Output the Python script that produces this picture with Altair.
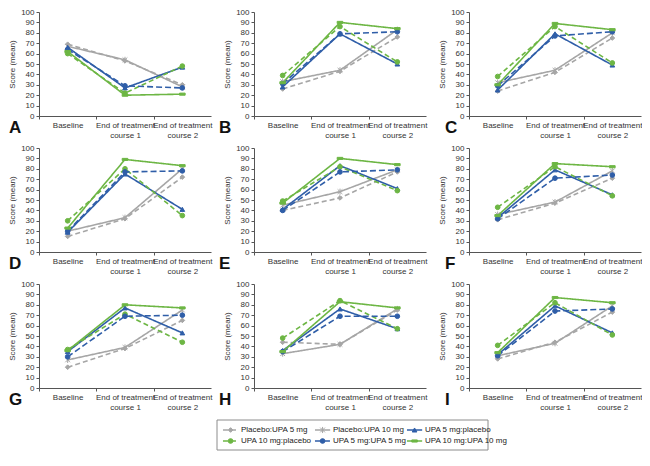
import altair as alt
import pandas as pd

timepoints = ["Baseline", "End of treatment course 1", "End of treatment course 2"]
series = ["Placebo:UPA 5 mg", "Placebo:UPA 10 mg", "UPA 5 mg:placebo",
          "UPA 10 mg:placebo", "UPA 5 mg:UPA 5 mg", "UPA 10 mg:UPA 10 mg"]
panel_letters = ["A", "B", "C", "D", "E", "F", "G", "H", "I"]

# values per panel, one list per series (same order as `series`)
A_values = [[69, 53, 30], [67, 54, 28], [66, 27, 47], [60, 22, 48], [64, 29, 27], [62, 20, 21]]
B_values = [[26, 43, 76], [33, 44, 83], [28, 79, 50], [39, 86, 52], [31, 79, 81], [32, 90, 84]]
C_values = [[24, 42, 75], [32, 44, 80], [25, 79, 49], [38, 86, 51], [29, 77, 81], [30, 89, 83]]
D_values = [[15, 32, 72], [20, 33, 80], [19, 75, 41], [30, 80, 35], [20, 77, 78], [23, 89, 83]]
E_values = [[40, 52, 77], [45, 58, 79], [41, 83, 61], [49, 82, 59], [40, 77, 79], [47, 90, 84]]
F_values = [[31, 47, 71], [36, 48, 78], [33, 79, 55], [43, 82, 54], [32, 71, 74], [35, 85, 82]]
G_values = [[20, 38, 65], [27, 39, 75], [35, 77, 53], [37, 71, 44], [30, 69, 70], [36, 80, 77]]
H_values = [[44, 42, 75], [33, 42, 76], [36, 76, 57], [48, 84, 57], [35, 69, 69], [35, 83, 77]]
I_values = [[28, 44, 73], [31, 43, 79], [32, 79, 53], [41, 82, 51], [31, 74, 76], [34, 87, 82]]
panel_values = [A_values, B_values, C_values, D_values, E_values, F_values,
                G_values, H_values, I_values]

y_ticks = list(range(0, 101, 10))

# styles
GRAY, BLUE, GREEN = "#a6a6a6", "#2f5ea8", "#6db644"
colors = [GRAY, GRAY, BLUE, GREEN, BLUE, GREEN]
dashes = [[5, 3], [1, 0], [1, 0], [5, 3], [6, 3], [1, 0]]
widths = [1.6, 1.6, 2.2, 2.0, 2.0, 2.0]
ASTER = "M-1,-1L1,1M-1,1L1,-1M0,-1.3L0,1.3"
DASHM = "M-1.2,-0.45H1.2V0.45H-1.2Z"
shapes = ["diamond", ASTER, "triangle-up", "circle", "circle", DASHM]

FONT = "Liberation Sans"
W, H = 172, 104
HSP, VSP = 43, 32
STEP = W / 3
letter_dx = [-30, -35, -24]

color_scale = alt.Scale(domain=series, range=colors)
dash_scale = alt.Scale(domain=series, range=dashes)
width_scale = alt.Scale(domain=series, range=widths)
shape_scale = alt.Scale(domain=series, range=shapes)

label_expr = ("datum.label == 'Baseline' ? datum.label : "
              "['End of treatment', substring(datum.label, 17)]")

# legend geometry (pixels, relative to the bottom-middle panel)
LEG_LEFT, LEG_TOP, LEG_W, LEG_H = -37, 136, 271, 30
UNIT_X, UNIT_Y = 92.0, 11.0


def legend_layer():
    rows = []
    for k, s in enumerate(series):
        c, r = k % 3, k // 3
        rows.append({"series": s, "row": r, "x0": c + 0.065, "x1": c + 0.23,
                     "xm": c + 0.1475, "xt": c + 0.26})
    df = pd.DataFrame(rows)
    box = pd.DataFrame({"bx0": [0.0], "bx1": [LEG_W / UNIT_X],
                        "by0": [-10 / UNIT_Y], "by1": [(LEG_H - 10) / UNIT_Y]})
    dmin_x = -LEG_LEFT / UNIT_X
    lx = alt.Scale(domain=[dmin_x, dmin_x + W / UNIT_X], nice=False, zero=False)
    dmin_y = -(LEG_TOP + 10) / UNIT_Y
    ly = alt.Scale(domain=[dmin_y, dmin_y + H / UNIT_Y], reverse=True, nice=False, zero=False)
    frame = alt.Chart(box).mark_rect(fill=None, stroke="#8c8c8c", strokeWidth=1).encode(
        x=alt.X("bx0:Q", scale=lx, axis=None), x2="bx1:Q",
        y=alt.Y("by0:Q", scale=ly, axis=None), y2="by1:Q")
    base = alt.Chart(df)
    segs = base.mark_rule().encode(
        x=alt.X("x0:Q", scale=lx, axis=None), x2="x1:Q",
        y=alt.Y("row:Q", scale=ly, axis=None),
        color=alt.Color("series:N", scale=color_scale, legend=None),
        strokeDash=alt.StrokeDash("series:N", scale=dash_scale, legend=None),
        strokeWidth=alt.StrokeWidth("series:N", scale=width_scale, legend=None),
    )
    pts = base.mark_point(filled=True, opacity=1, size=22, strokeWidth=1).encode(
        x=alt.X("xm:Q", scale=lx, axis=None),
        y=alt.Y("row:Q", scale=ly, axis=None),
        color=alt.Color("series:N", scale=color_scale, legend=None),
        stroke=alt.Stroke("series:N", scale=color_scale, legend=None),
        shape=alt.Shape("series:N", scale=shape_scale, legend=None),
    )
    txt = base.mark_text(align="left", baseline="middle", fontSize=8, font=FONT,
                         color="#222").encode(
        x=alt.X("xt:Q", scale=lx, axis=None),
        y=alt.Y("row:Q", scale=ly, axis=None),
        text="series:N",
    )
    return alt.layer(frame, segs, pts, txt)


def make_panel(i):
    rows = []
    for s, arr in zip(series, panel_values[i]):
        for t, v in zip(timepoints, arr):
            rows.append({"series": s, "time": t, "value": v})
    df = pd.DataFrame(rows)
    x = alt.X("time:N", sort=timepoints, bandPosition=0.5,
              scale=alt.Scale(type="band", domain=timepoints, paddingInner=0, paddingOuter=0),
              axis=alt.Axis(title=None, labelAngle=0, labelExpr=label_expr,
                            tickOffset=-STEP / 2, labelOffset=STEP / 2,
                            labelLineHeight=10, labelPadding=2, labelFontSize=8))
    y = alt.Y("value:Q", scale=alt.Scale(domain=[0, 100], nice=False, zero=True),
              axis=alt.Axis(title="Score (mean)", values=y_ticks, labelFontSize=8,
                            titlePadding=4, labelPadding=2))
    base = alt.Chart(df)
    lines = base.mark_line().encode(
        x=x, y=y,
        color=alt.Color("series:N", scale=color_scale, legend=None),
        strokeDash=alt.StrokeDash("series:N", scale=dash_scale, legend=None),
        strokeWidth=alt.StrokeWidth("series:N", scale=width_scale, legend=None),
    )
    pts = base.mark_point(filled=True, opacity=1, size=22, strokeWidth=1).encode(
        x=x, y=y,
        color=alt.Color("series:N", scale=color_scale, legend=None),
        stroke=alt.Stroke("series:N", scale=color_scale, legend=None),
        shape=alt.Shape("series:N", scale=shape_scale, legend=None),
    )
    letter = alt.Chart(pd.DataFrame({"t": [panel_letters[i]]})).mark_text(
        align="left", baseline="alphabetic", fontSize=17, fontWeight="bold",
        font=FONT, color="#111"
    ).encode(text="t:N", x=alt.value(letter_dx[i % 3]), y=alt.value(H + 17))
    main = alt.layer(lines, pts, letter)
    if i == 7:
        return alt.layer(main, legend_layer()).resolve_scale(
            x="independent", y="independent").properties(width=W, height=H)
    return main.properties(width=W, height=H)


panels = [make_panel(i) for i in range(9)]

chart = alt.concat(*panels, columns=3,
                   spacing={"row": VSP, "column": HSP}, bounds="flush").properties(
    padding={"left": 0, "top": 0, "right": 0, "bottom": 0}
).configure_view(stroke=None).configure_axis(
    grid=False, labelFont=FONT, titleFont=FONT, labelColor="#333", titleColor="#333",
    titleFontSize=8, titleFontWeight="normal", domainColor="#555", tickColor="#555",
    tickSize=3, domainWidth=1, tickWidth=1
)

chart.save("out.html", embed_options={"renderer": "svg", "actions": False})
